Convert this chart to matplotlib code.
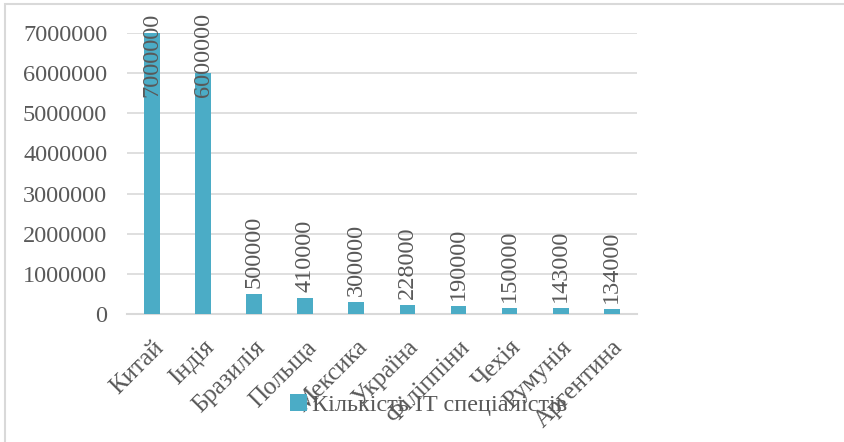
import matplotlib
matplotlib.use("Agg")
import matplotlib.pyplot as plt
from matplotlib.patches import Rectangle

countries = ["Китай", "Індія", "Бразилія", "Польща", "Мексика",
             "Україна", "Філіппіни", "Чехія", "Румунія", "Аргентина"]
specialists = [7000000, 6000000, 500000, 410000, 300000,
               228000, 190000, 150000, 143000, 134000]
series_name = "Кількість IT спеціалістів"

plt.rcParams['font.family'] = ['Liberation Serif', 'DejaVu Serif']
TEXT = '#595959'
GRID = '#d9d9d9'
BAR = '#4bacc6'
FS = 17.5

fig = plt.figure(figsize=(8.44, 4.42), dpi=100)
ax = fig.add_axes([0.150, 0.2896, 0.605, 0.6358])

x = range(len(countries))
bars = ax.bar(x, specialists, width=0.31, color=BAR, label=series_name, zorder=3)

ax.set_ylim(0, 7000000)
ax.set_xlim(-0.5, len(countries) - 0.5)
ax.set_yticks(range(0, 7000001, 1000000))
ax.set_yticklabels([str(v) for v in range(0, 7000001, 1000000)])
ax.grid(axis='y', color=GRID, linewidth=1.2, zorder=0)
for s in ['top', 'right', 'left']:
    ax.spines[s].set_visible(False)
ax.spines['bottom'].set_color(GRID)
ax.spines['bottom'].set_linewidth(1.5)
ax.tick_params(axis='both', length=0, labelsize=FS, labelcolor=TEXT)
ax.tick_params(axis='y', pad=14)

ax.set_xticks(list(x))
ax.set_xticklabels(countries, rotation=45, ha='right', va='top',
                   rotation_mode='anchor', fontsize=18)
ax.tick_params(axis='x', pad=16)

# value labels; large bars get pushed down so they stay inside the chart
top_limit = 7500000
for i, v in enumerate(specialists):
    if v + 2300000 > top_limit:
        ax.text(i, top_limit, str(v), rotation=90, ha='center', va='top',
                fontsize=FS, color=TEXT, clip_on=False, zorder=4)
    else:
        ax.text(i, v + 150000, str(v), rotation=90, ha='center', va='bottom',
                fontsize=FS, color=TEXT, clip_on=False, zorder=4)

leg = fig.legend(handles=[bars], labels=[series_name], loc='center',
                 bbox_to_anchor=(0.508, 0.083), frameon=False, fontsize=FS,
                 handlelength=0.7, handleheight=0.7, handletextpad=0.2)
for t in leg.get_texts():
    t.set_color(TEXT)

fig.patches.append(Rectangle((0.006, -0.1), 1.1, 1.091, transform=fig.transFigure,
                             fill=False, edgecolor=GRID, linewidth=1.5))

fig.savefig("out.png", dpi=100)
